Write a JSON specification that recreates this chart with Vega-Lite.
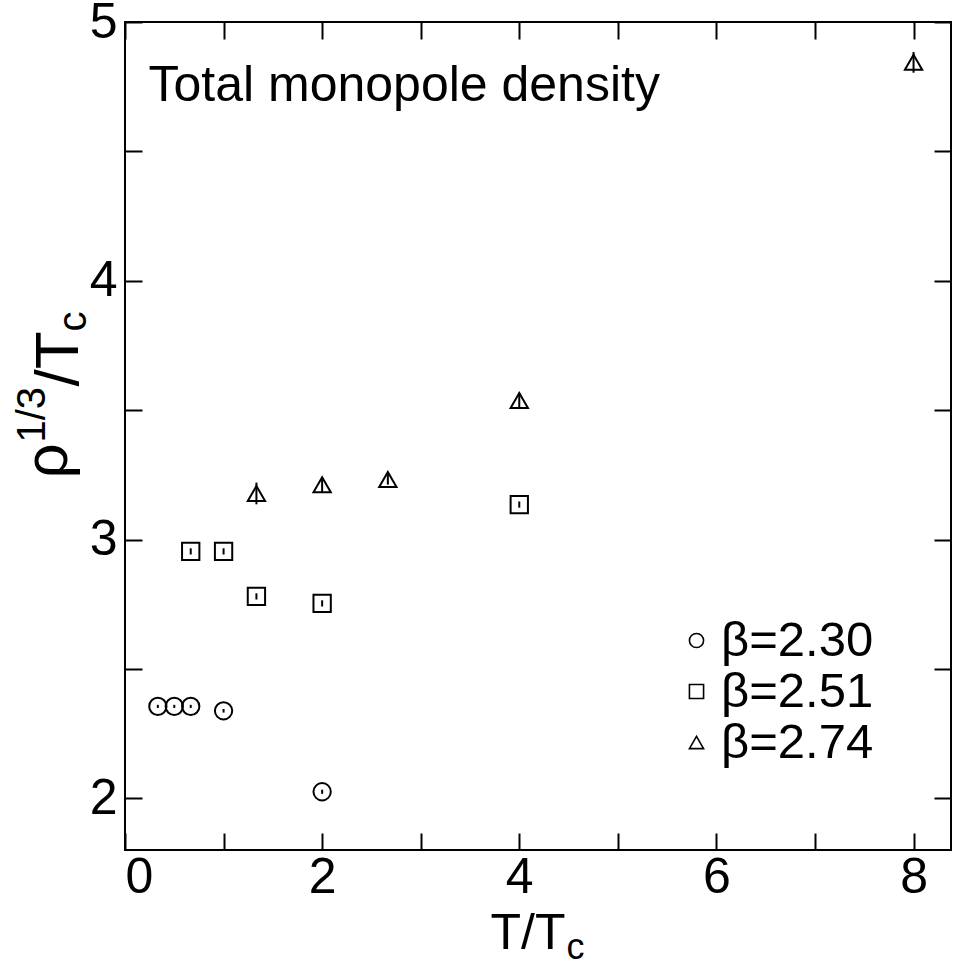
{
  "$schema": "https://vega.github.io/schema/vega-lite/v6.json",
  "width": 826,
  "height": 828,
  "autosize": {"type": "none"},
  "padding": {"left": 125, "top": 22, "right": 2, "bottom": 115},
  "background": "white",
  "config": {
    "font": "Liberation Sans",
    "view": {"stroke": "black", "strokeWidth": 2},
    "axis": {
      "grid": false,
      "domain": false,
      "tickColor": "black",
      "tickWidth": 2,
      "tickSize": -17,
      "labelFont": "Liberation Sans",
      "labelFontSize": 50,
      "labelColor": "black",
      "titleFont": "Liberation Sans",
      "titleColor": "black",
      "titleFontWeight": "normal"
    },
    "legend": {
      "labelFont": "Liberation Sans",
      "labelFontSize": 49,
      "labelColor": "black",
      "symbolSize": 200,
      "symbolStrokeWidth": 1.6,
      "symbolStrokeColor": "black",
      "labelOffset": 0,
      "rowPadding": 1
    }
  },
  "data": {
    "values": [
      {"T": 0.3333, "rho": 2.355, "lo": 2.349, "hi": 2.361, "beta": "β=2.30"},
      {"T": 0.5, "rho": 2.355, "lo": 2.349, "hi": 2.361, "beta": "β=2.30"},
      {"T": 0.6667, "rho": 2.355, "lo": 2.349, "hi": 2.361, "beta": "β=2.30"},
      {"T": 1.0, "rho": 2.338, "lo": 2.331, "hi": 2.345, "beta": "β=2.30"},
      {"T": 2.0, "rho": 2.025, "lo": 2.017, "hi": 2.033, "beta": "β=2.30"},
      {"T": 0.6667, "rho": 2.954, "lo": 2.942, "hi": 2.966, "beta": "β=2.51"},
      {"T": 1.0, "rho": 2.954, "lo": 2.942, "hi": 2.966, "beta": "β=2.51"},
      {"T": 1.3333, "rho": 2.78, "lo": 2.768, "hi": 2.792, "beta": "β=2.51"},
      {"T": 2.0, "rho": 2.753, "lo": 2.741, "hi": 2.765, "beta": "β=2.51"},
      {"T": 4.0, "rho": 3.135, "lo": 3.123, "hi": 3.147, "beta": "β=2.51"},
      {"T": 1.3333, "rho": 3.178, "lo": 3.136, "hi": 3.22, "beta": "β=2.74"},
      {"T": 2.0, "rho": 3.212, "lo": 3.182, "hi": 3.242, "beta": "β=2.74"},
      {"T": 2.6667, "rho": 3.232, "lo": 3.212, "hi": 3.252, "beta": "β=2.74"},
      {"T": 4.0, "rho": 3.537, "lo": 3.507, "hi": 3.567, "beta": "β=2.74"},
      {"T": 8.0, "rho": 4.844, "lo": 4.804, "hi": 4.884, "beta": "β=2.74"}
    ]
  },
  "resolve": {"axis": {"x": "independent", "y": "independent"}},
  "layer": [
    {
      "mark": {"type": "rule", "color": "black", "strokeWidth": 2},
      "encoding": {
        "x": {
          "field": "T", "type": "quantitative",
          "scale": {"domain": [0, 8.38], "nice": false, "zero": false},
          "axis": {
            "orient": "bottom",
            "values": [0, 1, 2, 3, 4, 5, 6, 7, 8],
            "labelExpr": "datum.value % 2 == 0 ? format(datum.value, 'd') : ''",
            "labelPadding": 19,
            "title": "T/T",
            "titleFontSize": 50,
            "titleX": 365,
            "titleY": 98,
            "titleAlign": "left",
            "titleBaseline": "alphabetic",
            "titleAngle": 0
          }
        },
        "y": {
          "field": "lo", "type": "quantitative",
          "scale": {"domain": [1.8, 5], "nice": false, "zero": false},
          "axis": {
            "orient": "left",
            "values": [2, 2.5, 3, 3.5, 4, 4.5, 5],
            "labelExpr": "datum.value % 1 == 0 ? format(datum.value, 'd') : ''",
            "labelPadding": 25,
            "title": "ρ",
            "titleFontSize": 62,
            "titleX": -59,
            "titleY": 456,
            "titleAngle": -90,
            "titleAlign": "left",
            "titleBaseline": "alphabetic"
          }
        },
        "y2": {"field": "hi"}
      }
    },
    {
      "mark": {"type": "point", "filled": false, "color": "black", "strokeWidth": 2, "opacity": 1, "size": 300},
      "encoding": {
        "x": {
          "field": "T", "type": "quantitative",
          "axis": {
            "orient": "top", "values": [0, 1, 2, 3, 4, 5, 6, 7, 8], "labels": false,
            "title": "Total monopole density",
            "titleFontSize": 50,
            "titleX": 23,
            "titleY": 78,
            "titleAlign": "left",
            "titleBaseline": "alphabetic",
            "titleAngle": 0
          }
        },
        "y": {
          "field": "rho", "type": "quantitative",
          "axis": {"orient": "right", "values": [2, 2.5, 3, 3.5, 4, 4.5, 5], "labels": false, "title": null}
        },
        "shape": {
          "field": "beta", "type": "nominal",
          "scale": {"domain": ["β=2.30", "β=2.51", "β=2.74"], "range": ["circle", "square", "triangle-up"]},
          "legend": {"title": null, "orient": "none", "legendX": 547, "legendY": 594}
        }
      }
    },
    {
      "mark": {"type": "point", "opacity": 0},
      "encoding": {
        "x": {
          "field": "T", "type": "quantitative",
          "axis": {"orient": "bottom", "ticks": false, "labels": false, "title": "c", "titleFontSize": 36, "titleX": 441, "titleY": 108, "titleAlign": "left", "titleBaseline": "alphabetic", "titleAngle": 0}
        },
        "y": {
          "field": "rho", "type": "quantitative",
          "axis": {"orient": "left", "ticks": false, "labels": false, "title": "1/3", "titleFontSize": 40, "titleX": -81, "titleY": 420, "titleAngle": -90, "titleAlign": "left", "titleBaseline": "alphabetic"}
        }
      }
    },
    {
      "mark": {"type": "point", "opacity": 0},
      "encoding": {
        "x": {"field": "T", "type": "quantitative", "axis": null},
        "y": {
          "field": "rho", "type": "quantitative",
          "axis": {"orient": "left", "ticks": false, "labels": false, "title": "/T", "titleFontSize": 62, "titleX": -48, "titleY": 364, "titleAngle": -90, "titleAlign": "left", "titleBaseline": "alphabetic"}
        }
      }
    },
    {
      "mark": {"type": "point", "opacity": 0},
      "encoding": {
        "x": {"field": "T", "type": "quantitative", "axis": null},
        "y": {
          "field": "rho", "type": "quantitative",
          "axis": {"orient": "left", "ticks": false, "labels": false, "title": "c", "titleFontSize": 40, "titleX": -40, "titleY": 309, "titleAngle": -90, "titleAlign": "left", "titleBaseline": "alphabetic"}
        }
      }
    }
  ]
}
